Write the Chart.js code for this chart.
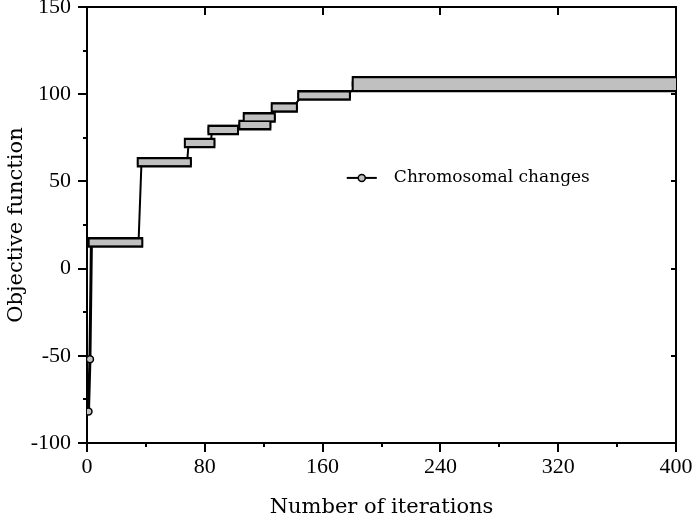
<!DOCTYPE html>
<html>
<head>
<meta charset="utf-8">
<script src="https://cdn.jsdelivr.net/npm/chart.js@4"></script>
<style>
  html, body { margin: 0; padding: 0; background: #fff; }
  #wrap { width: 697px; height: 525px; }
</style>
</head>
<body>
<div id="wrap"><canvas id="chart"></canvas></div>
<script>
// first two evaluations, before the first plateau
const seedIter = [1, 2];
const seedValue = [-82, -52];

// plateaus of the objective: value held from first to last iteration
const levelValue = [15, 61, 72, 79.5, 82.3, 86.7, 92.4, 99.3, 104.2, 107.4];
const levelFirst = [3, 37, 69, 85, 106, 109, 128, 146, 183, 183];
const levelLast  = [35, 68, 84, 100, 122, 125, 140, 176, 400, 400];

const xTickValues = [0, 80, 160, 240, 320, 400];
const yTickValues = [-100, -50, 0, 50, 100, 150];

const seriesLabel = 'Chromosomal changes';

// half width of a marker, in iterations
const MARK = 3;
const GREY = '#c0c0c0';

const linePoints = seedIter.map((it, i) => ({ x: it, y: seedValue[i] }));
levelValue.forEach((v, i) => {
  linePoints.push({ x: levelFirst[i], y: v });
  linePoints.push({ x: levelLast[i], y: v });
});

const bandData = levelValue.map((v, i) => ({
  x: [levelFirst[i] - MARK, levelLast[i] + MARK],
  y: v
}));

// legend sits inside the plot area
const insideLegend = {
  id: 'insideLegend',
  afterDraw(chart) {
    const { ctx, chartArea: a } = chart;
    const y = a.top + a.height * 0.392;
    const x0 = a.left + a.width * 0.441;
    const x1 = a.left + a.width * 0.492;
    ctx.save();
    ctx.strokeStyle = '#000';
    ctx.lineWidth = 2;
    ctx.beginPath();
    ctx.moveTo(x0, y);
    ctx.lineTo(x1, y);
    ctx.stroke();
    ctx.beginPath();
    ctx.arc((x0 + x1) / 2, y, 3.5, 0, Math.PI * 2);
    ctx.fillStyle = GREY;
    ctx.fill();
    ctx.lineWidth = 1.5;
    ctx.stroke();
    ctx.font = '17px "DejaVu Serif"';
    ctx.fillStyle = '#000';
    ctx.textBaseline = 'middle';
    ctx.fillText(chart.data.datasets[0].label, a.left + a.width * 0.521, y);
    ctx.restore();
  }
};

const tickFont = { family: 'Liberation Serif', size: 22 };
const titleFont = { family: 'DejaVu Serif', size: 21 };

new Chart(document.getElementById('chart'), {
  type: 'line',
  data: {
    datasets: [
      {
        type: 'line',
        label: seriesLabel,
        data: linePoints,
        borderColor: '#000',
        borderWidth: 2,
        // the early climb is drawn heavier
        segment: { borderWidth: ctx => ctx.p0DataIndex < seedIter.length ? 3 : 2 },
        tension: 0,
        pointRadius: ctx => ctx.dataIndex < seedIter.length ? 3.5 : 0,
        pointBackgroundColor: GREY,
        pointBorderColor: '#000',
        pointBorderWidth: 1.5,
        order: 3
      },
      {
        type: 'bar',
        label: 'outline',
        indexAxis: 'y',
        data: bandData,
        backgroundColor: '#000',
        borderWidth: 0,
        barThickness: 10,
        grouped: false,
        order: 2
      },
      {
        type: 'bar',
        label: 'fill',
        indexAxis: 'y',
        data: bandData,
        backgroundColor: GREY,
        borderColor: '#000',
        borderWidth: { left: 2, right: 2, top: 0, bottom: 0 },
        borderSkipped: false,
        barThickness: 6,
        grouped: false,
        order: 1
      }
    ]
  },
  options: {
    responsive: true,
    maintainAspectRatio: false,
    animation: false,
    devicePixelRatio: 1,
    layout: { padding: { top: 7, right: 21, left: 0, bottom: 0 } },
    plugins: {
      legend: { display: false },
      tooltip: { enabled: false }
    },
    scales: {
      x: {
        type: 'linear',
        position: 'bottom',
        min: 0,
        max: 400,
        offset: false,
        stacked: false,
        weight: 1,
        afterBuildTicks: s => { s.ticks = xTickValues.map(v => ({ value: v })); },
        afterFit: s => { s.height = 82; },
        ticks: { font: tickFont, color: '#000', padding: 2, maxRotation: 0, autoSkip: false },
        grid: { offset: false, drawOnChartArea: false, tickLength: 9, color: '#000', lineWidth: 2 },
        border: { color: '#000', width: 2 },
        title: {
          display: true,
          text: 'Number of iterations',
          font: titleFont,
          color: '#000',
          padding: { top: 0, bottom: 5 }
        }
      },
      xMinor: {
        type: 'linear',
        position: 'bottom',
        min: 0,
        max: 400,
        weight: 0,
        afterFit: s => { s.height = 0; },
        ticks: { stepSize: 40, display: false },
        grid: { offset: false, drawOnChartArea: false, tickLength: 4, color: '#000', lineWidth: 2 },
        border: { display: false }
      },
      xTop: {
        type: 'linear',
        position: 'top',
        min: 0,
        max: 400,
        afterFit: s => { s.height = 0; },
        ticks: { stepSize: 80, display: false },
        grid: { offset: false, drawOnChartArea: false, tickLength: -8, color: '#000', lineWidth: 2 },
        border: { color: '#000', width: 2 }
      },
      y: {
        type: 'linear',
        position: 'left',
        min: -100,
        max: 150,
        offset: false,
        weight: 1,
        afterBuildTicks: s => { s.ticks = yTickValues.map(v => ({ value: v })); },
        afterFit: s => { s.width = 87; s.paddingTop = 0; s.paddingBottom = 0; },
        ticks: { font: tickFont, color: '#000', padding: 7, autoSkip: false },
        grid: { offset: false, drawOnChartArea: false, tickLength: 9, color: '#000', lineWidth: 2 },
        border: { color: '#000', width: 2 },
        title: {
          display: true,
          text: 'Objective function',
          font: titleFont,
          color: '#000',
          padding: { top: 4, bottom: 0 }
        }
      },
      yMinor: {
        type: 'linear',
        position: 'left',
        min: -100,
        max: 150,
        weight: 0,
        afterFit: s => { s.width = 0; },
        ticks: { stepSize: 25, display: false },
        grid: { offset: false, drawOnChartArea: false, tickLength: 4, color: '#000', lineWidth: 2 },
        border: { display: false }
      },
      yRight: {
        type: 'linear',
        position: 'right',
        min: -100,
        max: 150,
        afterFit: s => { s.width = 0; },
        ticks: { stepSize: 50, display: false },
        grid: { offset: false, drawOnChartArea: false, tickLength: -5, color: '#000', lineWidth: 2 },
        border: { color: '#000', width: 2 }
      }
    }
  },
  plugins: [insideLegend]
});
</script>
</body>
</html>
